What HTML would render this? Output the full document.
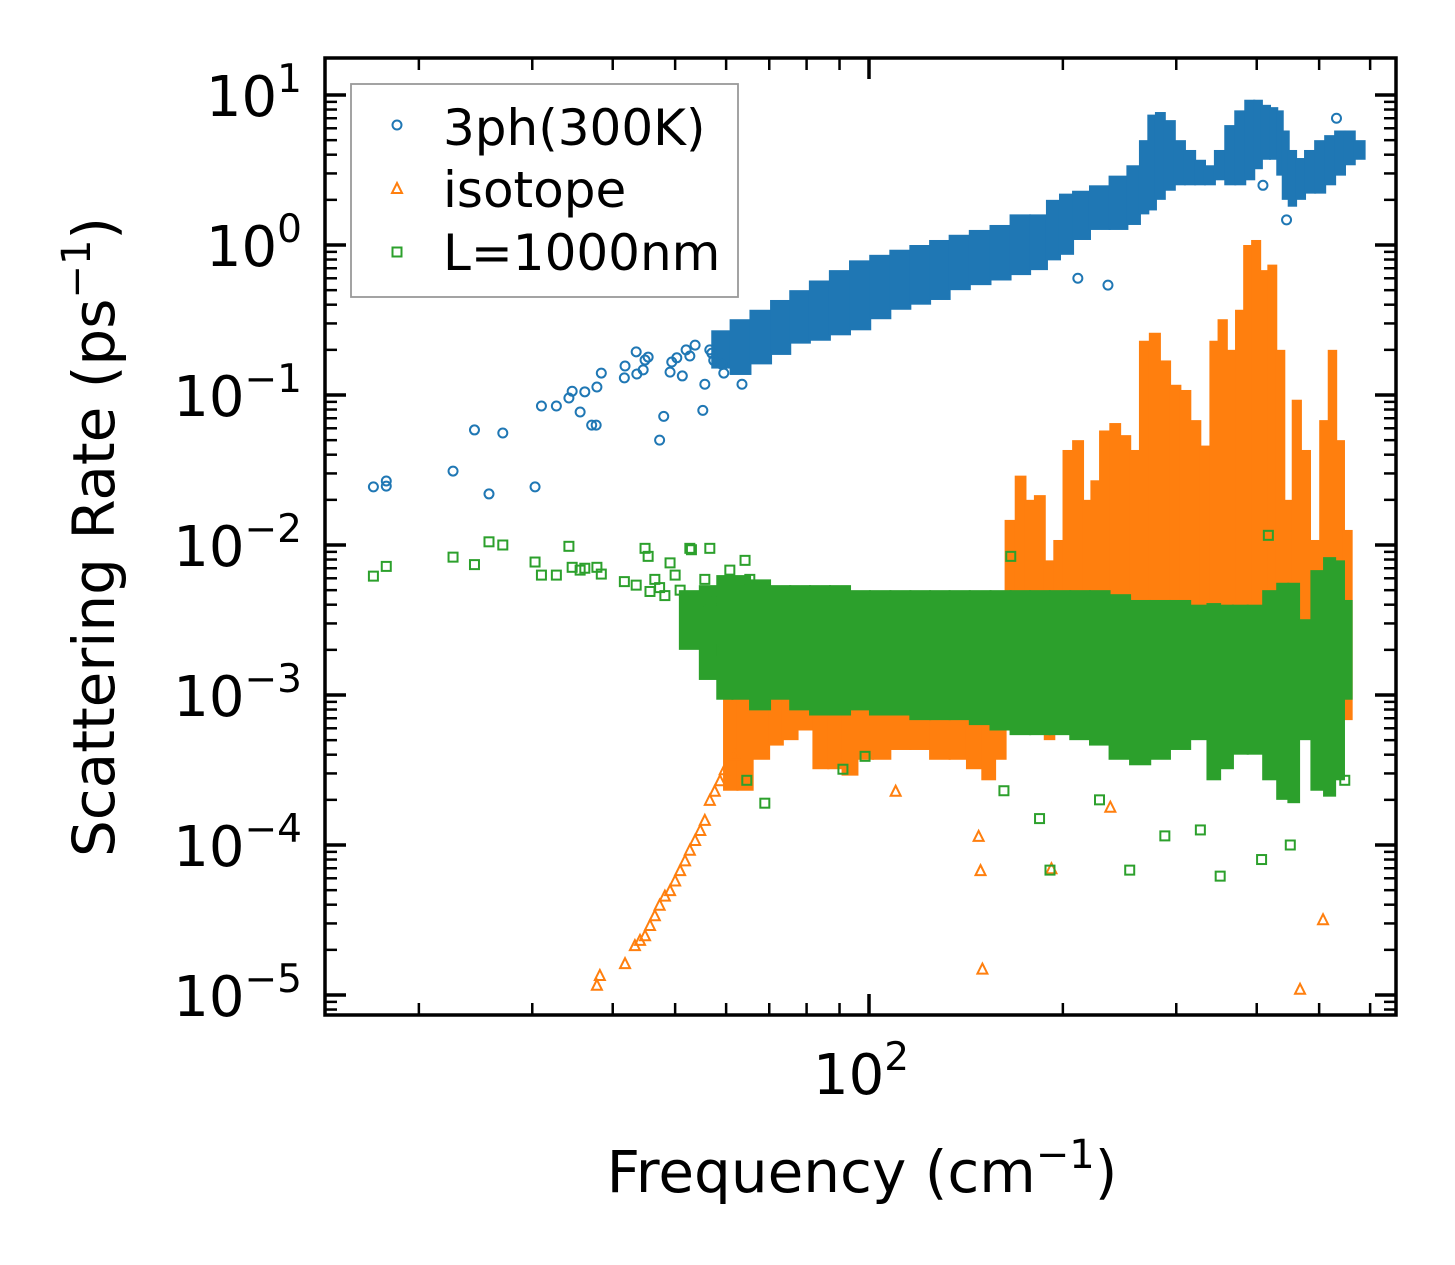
<!DOCTYPE html>
<html><head><meta charset="utf-8">
<style>
html,body{margin:0;padding:0;background:#fff;}
svg{display:block;font-family:"DejaVu Sans","Liberation Sans",sans-serif;}
</style></head>
<body>
<svg id="chart" width="1455" height="1265" viewBox="0 0 1455 1265" xmlns="http://www.w3.org/2000/svg">
<rect width="1455" height="1265" fill="#fff"/>
<g id="marks"></g>
<g id="axes"></g>
<g id="legend">
  <rect x="351" y="84" width="387" height="213" fill="#fff" fill-opacity="0.85" stroke="#999" stroke-width="1.8"/>
  <circle cx="397" cy="125" r="4.5" fill="none" stroke="#1f77b4" stroke-width="2"/>
  <text x="443" y="145" font-size="50">3ph(300K)</text>
  <polygon points="397,183 402,193 392,193" fill="none" stroke="#ff7f0e" stroke-width="2"/>
  <text x="443" y="207" font-size="50">isotope</text>
  <rect x="392.5" y="247.5" width="9" height="9" fill="none" stroke="#2ca02c" stroke-width="2"/>
  <text x="443" y="270" font-size="50">L=1000nm</text>
</g>
<text x="862" y="1192" font-size="58" text-anchor="middle">Frequency (cm<tspan dy="-24" font-size="40">−1</tspan><tspan dy="24">)</tspan></text>
<text transform="translate(114,537) rotate(-90)" font-size="58" text-anchor="middle">Scattering Rate (ps<tspan dy="-24" font-size="40">−1</tspan><tspan dy="24">)</tspan></text>
</svg>
<script>
// ---- data ----
const blueFreq = [17.0,17.8,17.8,22.6,24.4,25.7,27.0,30.3,31.0,32.7,34.2,34.6,35.6,36.2,37.1,37.7,37.8,38.4,41.7,41.8,43.5,43.6,44.6,44.9,45.4,47.3,48.0,49.1,49.4,50.3,51.3,52.0,52.7,53.7,55.2,55.6,56.6,57.0,57.4,59.1,59.5,63.5,235,211,409,445,532];
const blueRate = [0.0244,0.0267,0.0247,0.0311,0.0585,0.0219,0.0558,0.0244,0.0845,0.0845,0.0955,0.106,0.077,0.105,0.063,0.063,0.113,0.140,0.130,0.156,0.194,0.138,0.147,0.171,0.179,0.050,0.072,0.142,0.166,0.177,0.134,0.20,0.182,0.215,0.079,0.118,0.20,0.19,0.17,0.16,0.14,0.118,0.54,0.60,2.5,1.47,7.0];
const blueBandFreq = [59,63,68,73,78,84,90,97,104,112,120,129,138,149,160,172,184,194,202,213,228,245,259,268,275,283,293,304,315,327,338,351,364,377,391,402,413,426,435,443,454,467,484,502,520,539,558,578];
const blueBandHi = [0.27,0.32,0.37,0.43,0.50,0.58,0.68,0.79,0.86,0.93,1.0,1.08,1.17,1.26,1.36,1.6,1.6,2.0,2.2,2.3,2.5,2.9,3.4,5.0,7.4,7.7,6.8,5.0,4.3,3.7,3.4,4.3,6.3,7.9,9.3,9.3,8.6,8.3,7.9,5.8,4.3,3.8,4.3,5.0,5.4,5.8,5.8,5.0];
const blueBandLo = [0.15,0.136,0.16,0.185,0.22,0.23,0.25,0.27,0.32,0.37,0.40,0.43,0.50,0.54,0.58,0.63,0.68,0.79,0.86,1.08,1.26,1.26,1.36,1.6,1.7,2.0,2.3,2.5,2.5,2.5,2.5,2.7,2.5,2.5,2.7,3.2,3.7,3.7,2.9,2.0,1.8,2.0,2.2,2.2,2.5,2.9,3.4,3.7];

const isoFreq = [37.8,38.2,41.8,43.3,44.1,44.9,45.7,46.5,47.3,48.2,49.1,50.0,50.9,51.8,52.7,53.7,54.7,55.6,56.6,57.6,58.7,59.7,61.9,110,148,149,150,192,507,467,237];
const isoRate = [1.17e-5,1.36e-5,1.63e-5,2.15e-5,2.33e-5,2.5e-5,2.93e-5,3.4e-5,4.0e-5,4.6e-5,5.0e-5,5.8e-5,6.8e-5,7.9e-5,9.3e-5,1.08e-4,1.26e-4,1.47e-4,2.0e-4,2.3e-4,2.7e-4,3.2e-4,4.0e-4,2.3e-4,1.15e-4,6.8e-5,1.5e-5,7.0e-5,3.2e-5,1.1e-5,1.8e-4];
const isoBandFreq = [61,64,68,72,75,80,84,89,93,99,104,112,120,129,138,146,154,160,166,172,178,184,191,197,204,211,219,224,233,241,250,259,268,278,288,299,310,321,333,345,353,366,377,388,399,411,423,435,448,462,475,493,511,524,539,554];
const isoBandHi = [0.00108,0.00126,0.00108,0.00126,0.00126,0.0017,0.00147,0.0017,0.0017,0.002,0.002,0.002,0.002,0.0017,0.0023,0.002,0.0032,0.0043,0.0147,0.029,0.020,0.0215,0.0079,0.0108,0.043,0.050,0.020,0.027,0.058,0.065,0.054,0.043,0.23,0.26,0.17,0.117,0.108,0.068,0.046,0.23,0.32,0.20,0.37,1.0,1.08,0.68,0.74,0.20,0.020,0.093,0.043,0.0108,0.068,0.20,0.050,0.0126];
const isoBandLo = [0.00023,0.00023,0.00037,0.00046,0.0005,0.00058,0.00032,0.00032,0.00029,0.00037,0.00037,0.00043,0.00043,0.00037,0.00037,0.00032,0.00027,0.00037,0.00068,0.00068,0.00068,0.00058,0.0005,0.00068,0.00068,0.00068,0.00068,0.00058,0.00058,0.00058,0.00058,0.0005,0.00068,0.00068,0.00068,0.00068,0.00068,0.00068,0.00058,0.00068,0.00068,0.00068,0.00068,0.00068,0.00068,0.00068,0.00068,0.00068,0.00068,0.00068,0.00068,0.00068,0.00068,0.00068,0.00068,0.00068];

const bdFreq = [17.0,17.8,22.6,24.4,25.7,27.0,30.3,31.0,32.7,34.2,34.6,35.6,36.2,37.8,38.4,41.7,43.5,44.9,45.4,45.7,46.5,47.3,48.2,49.1,50.0,50.9,51.8,52.7,53.0,54.7,55.6,56.6,57.6,59.1,60.8,64.2,65.3,63.1,64.6,68.9,91.1,98.6,162,184,191,254,351,407,451,548,228,288,327,166,417];
const bdRate = [6.2e-3,7.2e-3,8.3e-3,7.4e-3,1.05e-2,1.0e-2,7.7e-3,6.3e-3,6.3e-3,9.8e-3,7.1e-3,6.8e-3,7.0e-3,7.1e-3,6.4e-3,5.7e-3,5.4e-3,9.5e-3,8.4e-3,4.9e-3,5.9e-3,5.2e-3,4.6e-3,7.6e-3,6.3e-3,5.0e-3,4.3e-3,9.5e-3,9.3e-3,3.7e-3,5.9e-3,9.5e-3,4.3e-3,2.0e-3,6.8e-3,7.9e-3,5.9e-3,3.2e-3,2.7e-4,1.9e-4,3.2e-4,3.9e-4,2.3e-4,1.5e-4,6.8e-5,6.8e-5,6.2e-5,8.0e-5,1.0e-4,2.7e-4,2.0e-4,1.15e-4,1.26e-4,8.4e-3,1.16e-2];
const bdBandFreq = [52.7,56.6,59.7,63.1,67.7,72.8,78.2,83.9,90.2,96.8,104,112,120,129,138,149,160,172,184,198,213,228,245,264,283,304,327,344,358,377,398,421,440,456,475,498,520,539,554];
const bdBandHi = [0.005,0.0054,0.0063,0.0063,0.0059,0.0054,0.0054,0.0054,0.0054,0.005,0.005,0.005,0.005,0.005,0.005,0.005,0.005,0.005,0.005,0.005,0.005,0.005,0.0047,0.0043,0.0043,0.0043,0.004,0.0041,0.004,0.004,0.004,0.005,0.0056,0.0056,0.0032,0.0068,0.0083,0.0079,0.0043];
const bdBandLo = [0.002,0.00126,0.00093,0.00093,0.00079,0.00093,0.00079,0.00073,0.00073,0.00079,0.00073,0.00073,0.00068,0.00068,0.00068,0.00063,0.00058,0.00054,0.00054,0.00054,0.0005,0.00046,0.00037,0.00034,0.00037,0.00043,0.0005,0.00027,0.00032,0.0004,0.0004,0.00027,0.0002,0.00019,0.0005,0.00023,0.00021,0.00027,0.00093];

const yTickExp = [1,0,-1,-2,-3,-4,-5];
const yTickLabels = ["1","0","−1","−2","−3","−4","−5"];
const xMajorTicks = [100];
const xMinorTicks = [20,30,40,50,60,70,80,90,200,300,400,500,600];

// ---- axes functions ----
const PL=325, PR=1396, PT=58, PB=1015;
function X(f){ return 869 + 644*Math.log10(f/100); }
function Y(v){ return 245 - 150*Math.log10(v); }
const NS="http://www.w3.org/2000/svg";
const marks=document.getElementById('marks');
const axes=document.getElementById('axes');
function mk(tag, attrs, parent){ const e=document.createElementNS(NS,tag); for(const k in attrs) e.setAttribute(k,attrs[k]); parent.appendChild(e); return e; }

const clip=mk('clipPath',{id:'pc'},marks);
mk('rect',{x:PL,y:PT,width:PR-PL,height:PB-PT},clip);
marks.setAttribute('clip-path','url(#pc)');

function band(freqs, lo, hi, color, name){
  const xs=freqs.map(X);
  for(let i=0;i<freqs.length;i++){
    const l = i>0 ? (xs[i-1]+xs[i])/2 : xs[i]-(xs[1]-xs[0])/2;
    const r = i<xs.length-1 ? (xs[i]+xs[i+1])/2 : xs[i]+(xs[i]-xs[i-1])/2;
    const e=mk('rect',{x:l-1,y:Y(hi[i]),width:r-l+2,height:Y(lo[i])-Y(hi[i]),fill:color},marks);
    
    
  }
}
function pts(freqs, vals, shape, color, name){
  for(let i=0;i<freqs.length;i++){
    const x=X(freqs[i]), y=Y(vals[i]); let e;
    if(shape==='c') e=mk('circle',{cx:x,cy:y,r:4.5,fill:'none',stroke:color,'stroke-width':2},marks);
    else if(shape==='t') e=mk('polygon',{points:`${x},${y-5} ${x+5},${y+5} ${x-5},${y+5}`,fill:'none',stroke:color,'stroke-width':2},marks);
    else e=mk('rect',{x:x-4.5,y:y-4.5,width:9,height:9,fill:'none',stroke:color,'stroke-width':2},marks);
    
    
  }
}
band(blueBandFreq, blueBandLo, blueBandHi, '#1f77b4', '3ph-dense-column');
pts(blueFreq, blueRate, 'c', '#1f77b4', '3ph-point');
band(isoBandFreq, isoBandLo, isoBandHi, '#ff7f0e', 'isotope-dense-column');
pts(isoFreq, isoRate, 't', '#ff7f0e', 'isotope-point');
band(bdBandFreq, bdBandLo, bdBandHi, '#2ca02c', 'boundary-dense-column');
pts(bdFreq, bdRate, 's', '#2ca02c', 'boundary-point');

// frame
const fr=mk('rect',{x:PL,y:PT,width:PR-PL,height:PB-PT,fill:'none',stroke:'#000','stroke-width':3.5},axes);


// y ticks
yTickExp.forEach((ex,i)=>{
  const y=Y(Math.pow(10,ex));
  [[PL,PL+21],[PR,PR-21]].forEach(p=>{
    const t=mk('line',{x1:p[0],x2:p[1],y1:y,y2:y,stroke:'#000','stroke-width':3.5},axes);
    
    
  });
  const tx=mk('text',{x:302,y:y+21,'font-size':56,'text-anchor':'end'},axes);
  
  
  tx.innerHTML='10<tspan dy="-24" font-size="39">'+yTickLabels[i]+'</tspan>';
  for(let m=2;m<=9;m++){
    const ym=Y(m*Math.pow(10,ex));
    if(ym<PT||ym>PB) continue;
    [[PL,PL+12],[PR,PR-12]].forEach(p=>{
      const t=mk('line',{x1:p[0],x2:p[1],y1:ym,y2:ym,stroke:'#000','stroke-width':2.5},axes);
      
      
    });
  }
});
for(let m=7;m<=9;m++){
  const ym=Y(m*1e-6);
  if(ym<=PB){
    [[PL,PL+12],[PR,PR-12]].forEach(p=>{
      const t=mk('line',{x1:p[0],x2:p[1],y1:ym,y2:ym,stroke:'#000','stroke-width':2.5},axes);
      
      
    });
  }
}
// x ticks
xMajorTicks.forEach(f=>{
  const x=X(f);
  [[PB,PB-21],[PT,PT+21]].forEach(p=>{
    const t=mk('line',{x1:x,x2:x,y1:p[0],y2:p[1],stroke:'#000','stroke-width':3.5},axes);
    
    
  });
  const tx=mk('text',{x:x-8,y:1094,'font-size':56,'text-anchor':'middle'},axes);
  
  
  tx.innerHTML='10<tspan dy="-24" font-size="39">2</tspan>';
});
xMinorTicks.forEach(f=>{
  const x=X(f);
  if(x<PL||x>PR) return;
  [[PB,PB-12],[PT,PT+12]].forEach(p=>{
    const t=mk('line',{x1:x,x2:x,y1:p[0],y2:p[1],stroke:'#000','stroke-width':2.5},axes);
    
    
  });
});
</script>
</body></html>
